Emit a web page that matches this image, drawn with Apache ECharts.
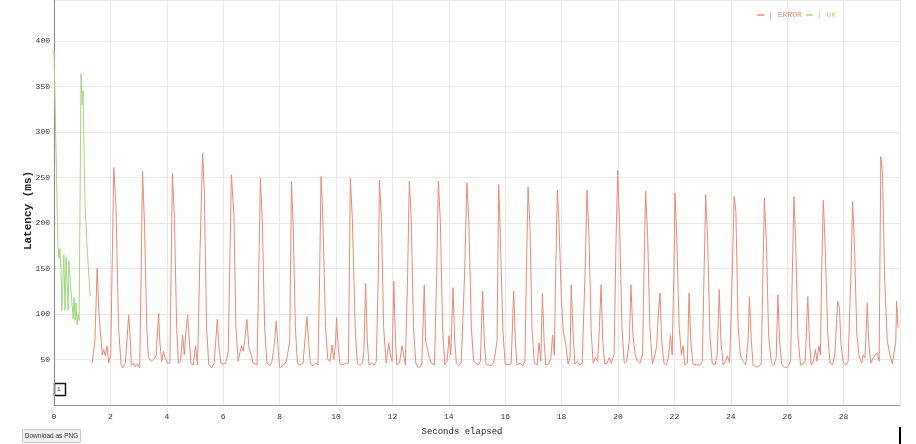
<!DOCTYPE html>
<html>
<head>
<meta charset="utf-8">
<style>
  html, body { margin: 0; padding: 0; background: #fff; }
  #chart { width: 916px; height: 444px; }
</style>
<script src="https://cdn.jsdelivr.net/npm/echarts@6/dist/echarts.min.js"></script>
</head>
<body>
<div id="chart"></div>
<script>
// latency samples (seconds elapsed, ms)
const okTimes = [0, 0.05, 0.14, 0.18, 0.21, 0.25, 0.28, 0.35, 0.39, 0.43, 0.5, 0.53, 0.6, 0.64, 0.68,
  0.71, 0.75, 0.78, 0.82, 0.86, 0.89, 0.96, 1.0, 1.03, 1.1, 1.2, 1.28]
const okLatency = [390, 313, 175, 161, 172, 148, 104, 165, 104, 162, 104, 158, 126, 110, 95,
  118, 93, 112, 88, 100, 93, 364, 330, 345, 220, 160, 120]

const errorTimes = [
  1.35, 1.45, 1.53, 1.59, 1.65, 1.71, 1.76, 1.82, 1.88, 1.94, 2.01, 2.12, 2.2, 2.29, 2.38, 2.45, 2.53, 2.59,
  2.65, 2.71, 2.74, 2.82, 2.88, 2.96, 3.04, 3.09, 3.14, 3.21, 3.29, 3.35, 3.45, 3.53, 3.62, 3.71, 3.75, 3.82,
  3.88, 3.94, 4.02, 4.11, 4.2, 4.27, 4.35, 4.41, 4.49, 4.56, 4.62, 4.67, 4.74, 4.8, 4.86, 4.94, 5.02, 5.09,
  5.18, 5.27, 5.33, 5.41, 5.49, 5.59, 5.68, 5.79, 5.85, 5.92, 6.0, 6.09, 6.18, 6.29, 6.38, 6.45, 6.53, 6.59,
  6.65, 6.71, 6.76, 6.84, 6.91, 7.0, 7.06, 7.12, 7.2, 7.26, 7.32, 7.39, 7.47, 7.55, 7.65, 7.73, 7.8, 7.88,
  7.94, 8.0, 8.12, 8.24, 8.3, 8.36, 8.42, 8.48, 8.56, 8.63, 8.71, 8.83, 8.89, 8.97, 9.03, 9.09, 9.18, 9.27,
  9.36, 9.42, 9.47, 9.53, 9.63, 9.71, 9.79, 9.86, 9.92, 9.98, 10.02, 10.08, 10.14, 10.23, 10.35, 10.44, 10.51, 10.58,
  10.68, 10.76, 10.84, 10.94, 10.99, 11.05, 11.11, 11.17, 11.26, 11.35, 11.43, 11.5, 11.54, 11.61, 11.69, 11.78, 11.87, 11.93,
  11.99, 12.05, 12.11, 12.16, 12.25, 12.34, 12.4, 12.46, 12.54, 12.6, 12.67, 12.75, 12.83, 12.92, 13.04, 13.13, 13.18, 13.25,
  13.31, 13.39, 13.49, 13.57, 13.63, 13.7, 13.78, 13.86, 13.94, 14.01, 14.07, 14.15, 14.21, 14.27, 14.35, 14.44, 14.56, 14.64,
  14.71, 14.8, 14.88, 14.97, 15.05, 15.12, 15.2, 15.26, 15.32, 15.4, 15.5, 15.59, 15.71, 15.77, 15.82, 15.92, 16.0, 16.09,
  16.21, 16.3, 16.36, 16.42, 16.53, 16.62, 16.7, 16.75, 16.81, 16.88, 16.95, 17.03, 17.13, 17.2, 17.26, 17.32, 17.38, 17.44,
  17.54, 17.62, 17.68, 17.74, 17.79, 17.85, 17.91, 17.99, 18.06, 18.15, 18.23, 18.3, 18.34, 18.41, 18.47, 18.56, 18.64, 18.73,
  18.83, 18.9, 18.97, 19.05, 19.12, 19.2, 19.28, 19.34, 19.4, 19.46, 19.53, 19.61, 19.69, 19.76, 19.86, 19.93, 19.99, 20.06,
  20.14, 20.22, 20.31, 20.4, 20.46, 20.53, 20.61, 20.69, 20.78, 20.87, 20.92, 20.98, 21.05, 21.13, 21.22, 21.31, 21.37, 21.43,
  21.49, 21.55, 21.63, 21.72, 21.8, 21.86, 21.92, 21.98, 22.02, 22.08, 22.17, 22.25, 22.31, 22.37, 22.46, 22.52, 22.58, 22.66,
  22.78, 22.91, 22.99, 23.05, 23.11, 23.18, 23.26, 23.34, 23.44, 23.52, 23.59, 23.65, 23.73, 23.81, 23.88, 23.96, 24.05, 24.12,
  24.18, 24.26, 24.34, 24.44, 24.53, 24.61, 24.66, 24.73, 24.79, 24.88, 24.99, 25.08, 25.14, 25.19, 25.26, 25.34, 25.44, 25.53,
  25.61, 25.67, 25.73, 25.81, 25.91, 26.02, 26.12, 26.18, 26.24, 26.3, 26.38, 26.47, 26.55, 26.64, 26.73, 26.79, 26.85, 26.93,
  27.0, 27.06, 27.12, 27.18, 27.22, 27.28, 27.34, 27.44, 27.52, 27.61, 27.69, 27.79, 27.85, 27.91, 27.99, 28.08, 28.16, 28.26,
  28.32, 28.38, 28.47, 28.55, 28.64, 28.69, 28.76, 28.84, 28.89, 28.96, 29.05, 29.12, 29.2, 29.26, 29.32, 29.38, 29.46, 29.55,
  29.65, 29.73, 29.79, 29.85, 29.88, 29.93
]
const errorLatency = [
  46, 70, 150, 103, 103, 55, 61, 54, 65, 46, 55, 261, 216, 85, 44, 41, 46, 46,
  99, 70, 44, 46, 42, 45, 41, 143, 257, 198, 85, 52, 48, 50, 54, 101, 70, 48,
  59, 52, 46, 46, 255, 205, 85, 46, 48, 77, 55, 79, 99, 70, 45, 44, 65, 44,
  172, 277, 235, 85, 44, 41, 46, 94, 63, 46, 45, 46, 59, 253, 209, 85, 48, 57,
  65, 59, 70, 94, 63, 54, 46, 46, 44, 143, 249, 198, 85, 46, 43, 48, 63, 92,
  66, 41, 43, 48, 46, 70, 246, 198, 85, 46, 44, 46, 48, 97, 70, 46, 43, 46,
  44, 143, 251, 209, 85, 50, 48, 66, 50, 66, 96, 63, 45, 44, 46, 46, 249, 205,
  85, 45, 44, 46, 59, 134, 70, 44, 46, 44, 48, 143, 247, 205, 85, 46, 68, 55,
  48, 136, 70, 44, 46, 65, 55, 44, 143, 246, 202, 85, 46, 41, 43, 132, 70, 61,
  52, 46, 44, 143, 246, 202, 85, 44, 48, 76, 55, 129, 70, 46, 44, 46, 143, 244,
  202, 85, 48, 46, 44, 48, 125, 70, 45, 44, 43, 46, 70, 242, 194, 81, 45, 44,
  45, 125, 70, 44, 46, 43, 48, 143, 240, 194, 85, 46, 44, 68, 48, 123, 70, 44,
  45, 52, 77, 55, 143, 236, 198, 118, 81, 66, 45, 52, 132, 77, 45, 48, 44, 46,
  143, 236, 187, 81, 46, 52, 48, 85, 132, 70, 45, 46, 52, 46, 55, 180, 258, 194,
  85, 46, 48, 70, 132, 77, 55, 48, 46, 55, 143, 235, 187, 85, 45, 55, 65, 99,
  123, 70, 46, 44, 55, 77, 55, 143, 233, 187, 85, 55, 65, 44, 46, 123, 70, 45,
  44, 44, 48, 143, 231, 180, 77, 46, 44, 55, 127, 70, 44, 48, 54, 46, 143, 229,
  213, 85, 55, 48, 44, 70, 119, 70, 44, 42, 42, 46, 143, 227, 180, 77, 46, 44,
  52, 121, 70, 44, 41, 42, 48, 143, 229, 180, 77, 44, 45, 48, 119, 70, 44, 48,
  61, 48, 65, 55, 143, 225, 180, 77, 46, 44, 55, 114, 107, 66, 46, 44, 48, 143,
  224, 180, 77, 54, 46, 55, 52, 112, 70, 46, 52, 55, 57, 48, 273, 253, 136, 70,
  54, 45, 46, 70, 114, 85
]

const seriesNames = ['ERROR', 'OK']
const seriesColors = ['#e88a76', '#a3d783']
const xTickInterval = 2
const yTickInterval = 50

const MONO = '"Liberation Mono", "DejaVu Sans Mono", monospace'

const chart = echarts.init(document.getElementById('chart'))

const okData = okTimes.map((t, i) => [t, okLatency[i]])
const errorData = errorTimes.map((t, i) => [t, errorLatency[i]])

chart.setOption({
  animation: false,
  backgroundColor: '#fff',
  legend: {
    top: 6,
    right: 75,
    icon: 'rect',
    itemWidth: 7,
    itemHeight: 1.5,
    itemGap: 4,
    formatter: '| {name}',
    textStyle: { fontFamily: MONO, fontSize: 8, padding: [0, 0, 0, -1] },
    data: seriesNames.map((name, i) => ({ name, textStyle: { color: seriesColors[i] } })),
  },
  grid: { left: 54, right: 16, top: 0, bottom: 39 },
  xAxis: {
    type: 'value',
    min: 0,
    max: 30,
    interval: xTickInterval,
    name: 'Seconds elapsed',
    nameLocation: 'middle',
    nameGap: 22,
    nameTextStyle: { fontFamily: MONO, fontSize: 9, color: '#222', padding: [0, 30, 0, 0] },
    axisLine: { lineStyle: { color: '#999', width: 1 } },
    axisTick: { show: false },
    axisLabel: { fontFamily: MONO, fontSize: 8, color: '#333', margin: 8, showMaxLabel: false },
    splitLine: { lineStyle: { color: '#e8e8e8' } },
  },
  yAxis: {
    type: 'value',
    min: 0,
    max: 445,
    interval: yTickInterval,
    name: 'Latency (ms)',
    nameLocation: 'middle',
    nameGap: 20,
    nameMoveOverlap: false,
    nameTextStyle: { fontFamily: MONO, fontSize: 11, fontWeight: 'bold', color: '#222', padding: [0, 16, 0, 0] },
    axisLine: { show: true, lineStyle: { color: '#888', width: 1 } },
    axisTick: { show: false },
    axisLabel: { fontFamily: MONO, fontSize: 8, color: '#333', margin: 4, showMinLabel: false, showMaxLabel: false },
    splitLine: { lineStyle: { color: '#e8e8e8' } },
  },
  series: [
    {
      name: 'ERROR',
      type: 'line',
      data: errorData,
      showSymbol: false,
      lineStyle: { color: seriesColors[0], width: 1 },
      itemStyle: { color: seriesColors[0] },
    },
    {
      name: 'OK',
      type: 'line',
      data: okData,
      showSymbol: false,
      lineStyle: { color: seriesColors[1], width: 1 },
      itemStyle: { color: seriesColors[1] },
    },
  ],
  graphic: [
    {
      type: 'rect',
      shape: { x: 54.5, y: 383.5, width: 11, height: 12 },
      style: { fill: '#fff', stroke: '#111', lineWidth: 1.5 },
    },
    {
      type: 'text',
      x: 57,
      y: 386,
      style: { text: '1', fontFamily: MONO, fontSize: 6, fill: '#333' },
    },
    {
      type: 'rect',
      shape: { x: 22.5, y: 429.5, width: 58, height: 13, r: 1 },
      style: { fill: '#f3f3f3', stroke: '#c4c4c4', lineWidth: 1 },
    },
    {
      type: 'text',
      x: 51.5,
      y: 436,
      style: {
        text: 'Download as PNG', fontFamily: 'Arial, "Liberation Sans", sans-serif', fontSize: 6.5,
        fill: '#333', align: 'center', verticalAlign: 'middle',
      },
    },
    {
      type: 'line',
      shape: { x1: 900, y1: 427, x2: 900, y2: 444 },
      style: { stroke: '#000', lineWidth: 2 },
    },
  ],
})

window.addEventListener('resize', () => chart.resize())
</script>
</body>
</html>
